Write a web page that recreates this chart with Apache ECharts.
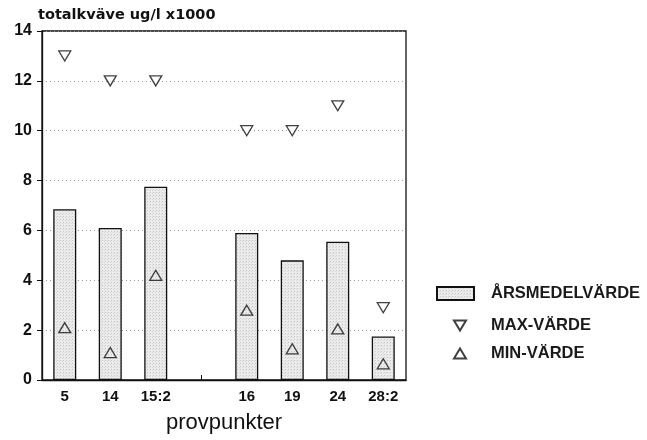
<!DOCTYPE html>
<html>
<head>
<meta charset="utf-8">
<script src="https://cdn.jsdelivr.net/npm/echarts@6/dist/echarts.min.js"></script>
<style>
html, body { margin: 0; padding: 0; background: #ffffff; }
#chart { width: 647px; height: 440px; }
</style>
</head>
<body>
<div id="chart"></div>
<script>
// Sampling points (one empty slot separates the two groups)
const categories = ['5', '14', '15:2', '', '16', '19', '24', '28:2'];
// Annual mean, maximum and minimum total nitrogen, ug/l x1000
const meanValues = [6.85, 6.1, 7.75, '-', 5.9, 4.8, 5.55, 1.75];
const maxValues  = [13, 12, 12, '-', 10, 10, 11, 2.9];
const minValues  = [2.1, 1.1, 4.2, '-', 2.8, 1.25, 2.05, 0.65];
const yTicks = [0, 2, 4, 6, 8, 10, 12, 14];

const FONT = '"Liberation Sans", Arial, sans-serif';
const chart = echarts.init(document.getElementById('chart'), null, { renderer: 'canvas' });

// Stippled light-grey fill for the bars
function stipple() {
  const c = document.createElement('canvas');
  c.width = 3; c.height = 3;
  const g = c.getContext('2d');
  g.fillStyle = '#ececec';
  g.fillRect(0, 0, 3, 3);
  g.fillStyle = '#c4c4c4';
  g.fillRect(0, 0, 1, 1);
  g.fillStyle = '#d6d6d6';
  g.fillRect(2, 1, 1, 1);
  return c;
}
const barFill = { image: stipple(), repeat: 'repeat' };

const DOWN_TRI = 'path://M0,0 L12,0 L6,10 Z';
const UP_TRI = 'path://M6,0 L12,10 L0,10 Z';

const legendText = { fontFamily: FONT, fontSize: 16.5, fontWeight: 'bold', color: '#1a1a1a' };

const option = {
  backgroundColor: '#ffffff',
  animation: false,
  title: {
    text: 'totalkväve ug/l x1000',
    left: 33,
    top: 3,
    textStyle: { fontFamily: '"DejaVu Sans", sans-serif', fontSize: 14.5, fontWeight: 'bold', color: '#111' }
  },
  grid: {
    left: 42, right: 241, top: 31, bottom: 60,
    outerBoundsMode: 'none',
    containLabel: false,
    show: true, borderColor: '#111', borderWidth: 1.3, backgroundColor: 'transparent'
  },
  legend: [
    {
      data: [{ name: 'ÅRSMEDELVÄRDE', icon: 'rect' }],
      orient: 'vertical', left: 436, top: 285, padding: 0,
      itemWidth: 37, itemHeight: 13,
      textStyle: Object.assign({ padding: [0, 0, 0, 12] }, legendText)
    },
    {
      data: [{ name: 'MAX-VÄRDE', icon: DOWN_TRI }],
      orient: 'vertical', left: 453, top: 317, padding: 0,
      itemWidth: 12, itemHeight: 10,
      textStyle: Object.assign({ padding: [0, 0, 0, 20] }, legendText)
    },
    {
      data: [{ name: 'MIN-VÄRDE', icon: UP_TRI }],
      orient: 'vertical', left: 453, top: 345, padding: 0,
      itemWidth: 12, itemHeight: 10,
      textStyle: Object.assign({ padding: [0, 0, 0, 20] }, legendText)
    }
  ],
  xAxis: {
    type: 'category',
    data: categories,
    boundaryGap: true,
    name: 'provpunkter',
    nameLocation: 'middle',
    nameGap: 32,
    nameTextStyle: { fontFamily: FONT, fontSize: 22, color: '#111' },
    axisLine: { lineStyle: { color: '#111', width: 1.3 } },
    axisTick: { show: true, alignWithLabel: true, inside: true, length: 5, lineStyle: { color: '#111' } },
    axisLabel: { fontFamily: FONT, fontSize: 15, fontWeight: 'bold', color: '#111', margin: 9 },
    splitLine: { show: false }
  },
  yAxis: {
    type: 'value',
    min: yTicks[0], max: yTicks[yTicks.length - 1], interval: 2,
    axisLine: { show: true, lineStyle: { color: '#111', width: 1.3 } },
    axisTick: { show: true, inside: false, length: 5, lineStyle: { color: '#111' } },
    axisLabel: { fontFamily: FONT, fontSize: 16, fontWeight: 'bold', color: '#111', margin: 10 },
    splitLine: { show: true, lineStyle: { color: '#9a9a9a', type: [1, 3], width: 1 } }
  },
  series: [
    {
      name: 'ÅRSMEDELVÄRDE',
      type: 'bar',
      data: meanValues,
      barWidth: 23,
      itemStyle: { color: barFill, borderColor: '#111', borderWidth: 1.3 },
      z: 2
    },
    {
      name: 'MAX-VÄRDE',
      type: 'scatter',
      data: maxValues,
      symbol: DOWN_TRI,
      symbolSize: [12, 10],
      itemStyle: { color: '#ffffff', borderColor: '#111', borderWidth: 1.3 },
      z: 3
    },
    {
      name: 'MIN-VÄRDE',
      type: 'scatter',
      data: minValues,
      symbol: UP_TRI,
      symbolSize: [12, 10],
      itemStyle: { color: 'rgba(255,255,255,0)', borderColor: '#111', borderWidth: 1.3 },
      z: 3
    }
  ]
};

chart.setOption(option);
</script>
</body>
</html>
